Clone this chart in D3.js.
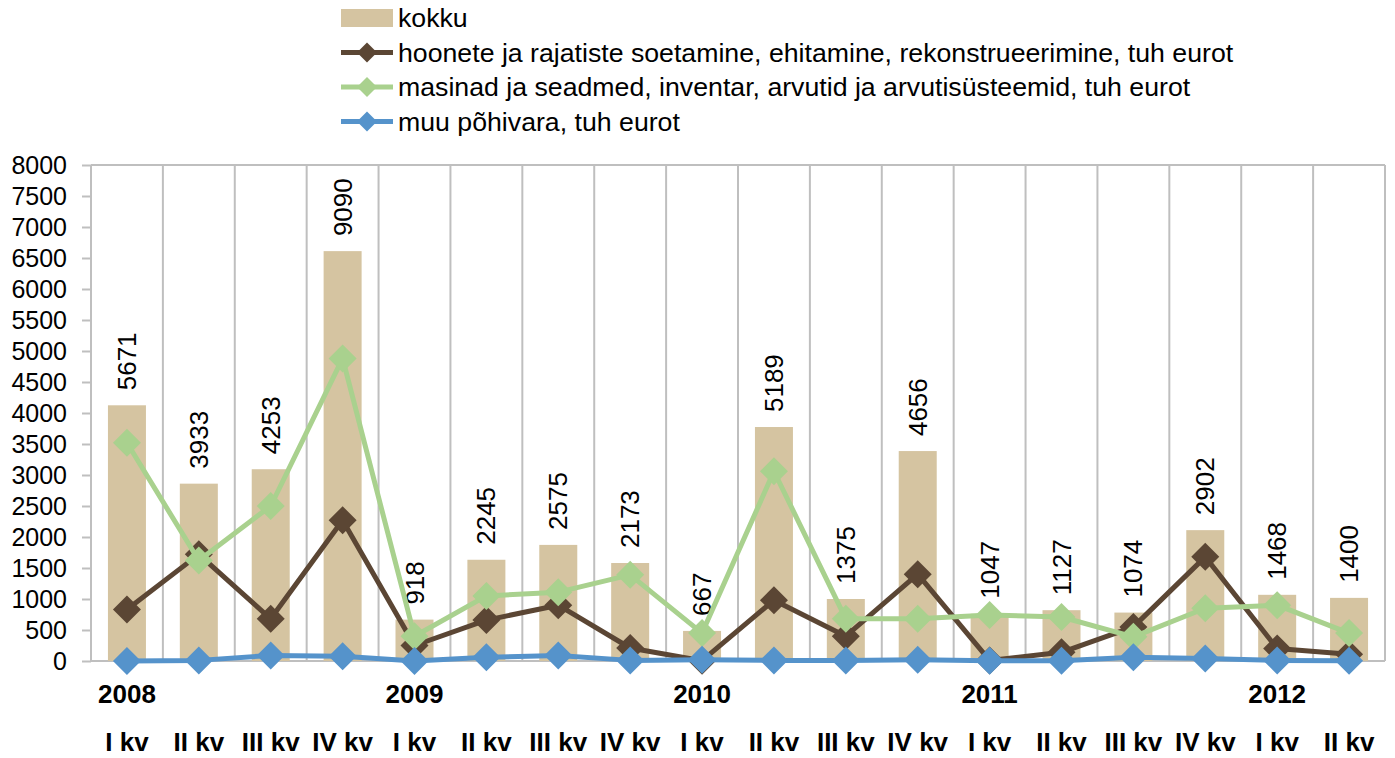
<!DOCTYPE html>
<html>
<head>
<meta charset="utf-8">
<script src="https://cdn.jsdelivr.net/npm/d3@7"></script>
<style>
  body { margin: 0; background: #fff; }
  svg { font-family: "Liberation Sans", Arial, sans-serif; }
</style>
</head>
<body>
<svg id="chart" width="1395" height="758"></svg>
<script>
// quarters and years
var quarters = ["I kv", "II kv", "III kv", "IV kv", "I kv", "II kv", "III kv", "IV kv", "I kv",
                "II kv", "III kv", "IV kv", "I kv", "II kv", "III kv", "IV kv", "I kv", "II kv"];
var years = ["2008", "2009", "2010", "2011", "2012"];

var seriesNames = ["kokku",
  "hoonete ja rajatiste soetamine, ehitamine, rekonstrueerimine, tuh eurot",
  "masinad ja seadmed, inventar, arvutid ja arvutisüsteemid, tuh eurot",
  "muu põhivara, tuh eurot"];

var kokku    = [5671, 3933, 4253, 9090, 918, 2245, 2575, 2173, 667, 5189, 1375, 4656, 1047, 1127, 1074, 2902, 1468, 1400];
var hoonete  = [830, 1720, 680, 2270, 250, 660, 900, 210, 5, 980, 400, 1400, 10, 140, 550, 1680, 200, 110];
var masinad  = [3520, 1620, 2500, 4880, 400, 1050, 1110, 1390, 450, 3060, 680, 680, 740, 710, 390, 850, 900, 450];
var muu      = [0, 10, 90, 75, 0, 60, 90, 10, 20, 10, 10, 20, 5, 5, 60, 40, 10, 5];

var yTicks = d3.range(0, 8001, 500);

var colors = { bar: "#D5C4A1", brown: "#5B4634", green: "#A9D18E", blue: "#5593CB", grid: "#BFBFBF" };

var pLeft = 91, pRight = 1385, pTop = 165, pBottom = 661;
var svg = d3.select("#chart");

var x = d3.scaleBand().domain(d3.range(quarters.length)).range([pLeft, pRight]).paddingInner(0).paddingOuter(0);
var y = d3.scaleLinear().domain([0, 8000]).range([pBottom, pTop]);
// hidden secondary axis used by the bars
var y2 = d3.scaleLinear().domain([0, 11000]).range([pBottom, pTop]);

// vertical gridlines at category boundaries
var g = svg.append("g");
g.selectAll("line.vgrid")
  .data(d3.range(quarters.length + 1))
  .enter().append("line")
  .attr("x1", function(d) { return pLeft + d * x.bandwidth(); })
  .attr("x2", function(d) { return pLeft + d * x.bandwidth(); })
  .attr("y1", pTop).attr("y2", pBottom)
  .attr("stroke", colors.grid).attr("stroke-width", 2);

g.append("line").attr("x1", pLeft).attr("x2", pRight).attr("y1", pTop).attr("y2", pTop)
  .attr("stroke", colors.grid).attr("stroke-width", 2);
g.append("line").attr("x1", pLeft).attr("x2", pRight).attr("y1", pBottom).attr("y2", pBottom)
  .attr("stroke", colors.grid).attr("stroke-width", 2);

// y axis
var yAxis = d3.axisLeft(y).tickValues(yTicks).tickFormat(d3.format("d")).tickSize(9).tickPadding(15);
var ya = svg.append("g").attr("transform", "translate(" + pLeft + ",0)").call(yAxis);
ya.select(".domain").remove();
ya.selectAll("line").attr("stroke", colors.grid).attr("stroke-width", 2);
ya.selectAll("text").attr("font-size", "25px").attr("fill", "#000")
  .attr("font-family", "'Liberation Sans', Arial, sans-serif");

// bars
var barW = 38;
svg.selectAll("rect.bar")
  .data(kokku)
  .enter().append("rect")
  .attr("x", function(d, i) { return x(i) + x.bandwidth() / 2 - barW / 2; })
  .attr("y", function(d) { return y2(d); })
  .attr("width", barW)
  .attr("height", function(d) { return pBottom - y2(d); })
  .attr("fill", colors.bar);

// bar labels (rotated)
svg.selectAll("text.blabel")
  .data(kokku)
  .enter().append("text")
  .attr("transform", function(d, i) {
    return "translate(" + (x(i) + x.bandwidth() / 2) + "," + (y2(d) - 15) + ") rotate(-90)";
  })
  .attr("dy", "0.35em")
  .attr("font-size", "26px")
  .attr("fill", "#000")
  .text(function(d) { return d; });

// lines
var lineGen = d3.line()
  .x(function(d, i) { return x(i) + x.bandwidth() / 2; })
  .y(function(d) { return y(d); });

function drawSeries(data, color) {
  svg.append("path").datum(data)
    .attr("d", lineGen)
    .attr("fill", "none").attr("stroke", color).attr("stroke-width", 5)
    .attr("stroke-linejoin", "round");
  svg.selectAll(null).data(data).enter().append("path")
    .attr("d", "M0,-14L14,0L0,14L-14,0Z")
    .attr("transform", function(d, i) { return "translate(" + (x(i) + x.bandwidth() / 2) + "," + y(d) + ")"; })
    .attr("fill", color);
}
drawSeries(hoonete, colors.brown);
drawSeries(masinad, colors.green);
drawSeries(muu, colors.blue);

// x axis labels
svg.selectAll("text.year")
  .data(years)
  .enter().append("text")
  .attr("x", function(d, i) { return x(i * 4) + x.bandwidth() / 2; })
  .attr("y", 703)
  .attr("text-anchor", "middle")
  .attr("font-size", "26px").attr("font-weight", "bold")
  .text(function(d) { return d; });

svg.selectAll("text.quarter")
  .data(quarters)
  .enter().append("text")
  .attr("x", function(d, i) { return x(i) + x.bandwidth() / 2; })
  .attr("y", 751)
  .attr("text-anchor", "middle")
  .attr("font-size", "26px").attr("font-weight", "bold")
  .text(function(d) { return d; });

// legend
var legendColors = [colors.bar, colors.brown, colors.green, colors.blue];
var lg = svg.append("g");
legendColors.forEach(function(c, i) {
  var cy = 18 + i * 34.5;
  if (i === 0) {
    lg.append("rect").attr("x", 341).attr("y", cy - 9).attr("width", 52).attr("height", 18).attr("fill", c);
  } else {
    lg.append("line").attr("x1", 341).attr("x2", 393).attr("y1", cy).attr("y2", cy)
      .attr("stroke", c).attr("stroke-width", 5);
    lg.append("path").attr("d", "M0,-10L10,0L0,10L-10,0Z")
      .attr("transform", "translate(367," + cy + ")").attr("fill", c);
  }
  lg.append("text").attr("x", 398).attr("y", cy).attr("dy", "0.35em")
    .attr("font-size", "26.7px").attr("fill", "#000").text(seriesNames[i]);
});
</script>
</body>
</html>
